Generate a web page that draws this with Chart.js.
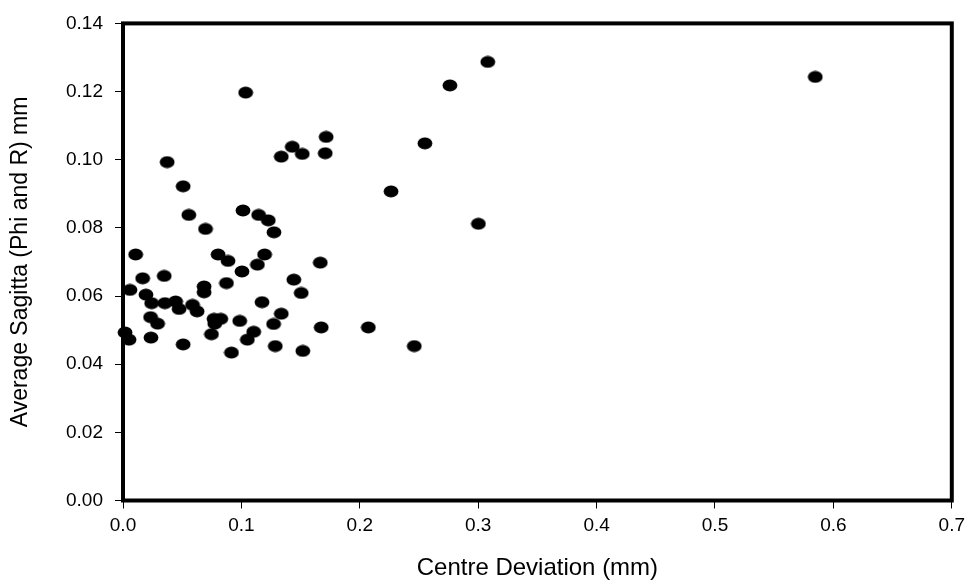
<!DOCTYPE html>
<html lang="en">
<head>
    <meta charset="UTF-8">
    <title>Average Sagitta vs Centre Deviation</title>
    <script src="https://cdn.jsdelivr.net/npm/chart.js@4.4.0/dist/chart.umd.min.js"></script>
    <style>
        html, body {
            margin: 0;
            padding: 0;
            background: #fff;
        }
        #wrap {
            width: 971px;
            height: 585px;
        }
    </style>
</head>
<body>
    <div id="wrap"><canvas id="canvas" width="971" height="585"></canvas></div>

    <script>
        // Centre deviation (mm) and average sagitta (mm)
        const centreDeviation = [
            0.0373, 0.0508, 0.0556, 0.0697, 0.1013, 0.1146, 0.1227, 0.1275,
            0.1337, 0.1430, 0.1514, 0.3081, 0.2761, 0.1716, 0.1708, 0.2550,
            0.2264, 0.1036, 0.5847, 0.3002, 0.0107, 0.0803, 0.0887, 0.1196,
            0.1135, 0.1005, 0.0166, 0.0348, 0.1443, 0.0685, 0.0874, 0.0059,
            0.0685, 0.1505, 0.0194, 0.0242, 0.0354, 0.0444, 0.0474, 0.0587,
            0.0626, 0.1174, 0.1337, 0.0233, 0.0292, 0.0769, 0.0826, 0.0775,
            0.0986, 0.1272, 0.1104, 0.1050, 0.0747, 0.0017, 0.0051, 0.0236,
            0.0508, 0.0916, 0.1286, 0.1519, 0.1674, 0.2072, 0.1666, 0.2460
        ];
        const avgSagitta = [
            0.0993, 0.0922, 0.0838, 0.0797, 0.0851, 0.0838, 0.0822, 0.0787,
            0.1009, 0.1038, 0.1017, 0.1287, 0.1218, 0.1067, 0.1019, 0.1048,
            0.0907, 0.1197, 0.1243, 0.0812, 0.0722, 0.0722, 0.0703, 0.0722,
            0.0692, 0.0672, 0.0652, 0.0659, 0.0648, 0.0628, 0.0638, 0.0618,
            0.0611, 0.0609, 0.0604, 0.0579, 0.0579, 0.0584, 0.0562, 0.0574,
            0.0555, 0.0582, 0.0548, 0.0538, 0.0519, 0.0533, 0.0533, 0.0519,
            0.0527, 0.0518, 0.0495, 0.0472, 0.0488, 0.0493, 0.0472, 0.0478,
            0.0458, 0.0434, 0.0453, 0.0439, 0.0508, 0.0508, 0.0698, 0.0453
        ];

        // Tick labels
        const xTickLabels = ['0.0', '0.1', '0.2', '0.3', '0.4', '0.5', '0.6', '0.7'];
        const yTickLabels = ['0.00', '0.02', '0.04', '0.06', '0.08', '0.10', '0.12', '0.14'];

        // Slightly flattened black dot used as the marker
        let dot = document.createElement('canvas');
        dot.width = 16;
        dot.height = 13;
        let dctx = dot.getContext('2d');
        dctx.fillStyle = '#000';
        dctx.beginPath();
        dctx.ellipse(8, 6.5, 7.4, 6.0, 0, 0, Math.PI * 2);
        dctx.fill();

        // Thick box around the plot area
        const frame = {
            id: 'frame',
            afterDatasetsDraw(chart) {
                let a = chart.chartArea;
                let c = chart.ctx;
                c.save();
                c.strokeStyle = '#000';
                c.lineWidth = 4;
                c.strokeRect(a.left, a.top, a.right - a.left, a.bottom - a.top);
                c.restore();
            }
        };

        let points = centreDeviation.map((x, i) => ({ x: x, y: avgSagitta[i] }));

        new Chart(document.getElementById('canvas'), {
            type: 'scatter',
            data: {
                datasets: [{
                    data: points,
                    pointStyle: dot,
                    radius: 7,
                    hoverRadius: 7,
                    clip: false
                }]
            },
            options: {
                responsive: false,
                animation: false,
                events: [],
                layout: { padding: { left: 0, top: 18, right: 17, bottom: 0 } },
                plugins: {
                    legend: { display: false },
                    tooltip: { enabled: false }
                },
                scales: {
                    x: {
                        min: 0,
                        max: 0.7,
                        afterFit: s => { s.height = 84.5; },
                        afterBuildTicks: s => {
                            s.ticks = xTickLabels.map(t => ({ value: parseFloat(t) }));
                        },
                        border: { display: false },
                        grid: { drawOnChartArea: false, drawTicks: true, tickLength: 8, color: '#000', lineWidth: 1 },
                        ticks: {
                            color: '#000',
                            padding: 6,
                            maxRotation: 0,
                            font: { family: 'Liberation Sans', size: 19 },
                            callback: (v, i) => xTickLabels[i]
                        },
                        title: {
                            display: true,
                            text: 'Centre Deviation (mm)',
                            color: '#000',
                            padding: { top: 0, bottom: 2 },
                            font: { family: 'Liberation Sans', size: 24 }
                        }
                    },
                    y: {
                        min: 0,
                        max: 0.14,
                        afterFit: s => { s.width = 123; },
                        afterBuildTicks: s => {
                            s.ticks = yTickLabels.map(t => ({ value: parseFloat(t) }));
                        },
                        border: { display: false },
                        grid: { drawOnChartArea: false, drawTicks: true, tickLength: 8, color: '#000', lineWidth: 1 },
                        ticks: {
                            color: '#000',
                            padding: 12,
                            font: { family: 'Liberation Sans', size: 19 },
                            callback: (v, i) => yTickLabels[i]
                        },
                        title: {
                            display: true,
                            text: 'Average Sagitta (Phi and R) mm',
                            color: '#000',
                            padding: { top: 7, bottom: 0 },
                            font: { family: 'Liberation Sans', size: 23 }
                        }
                    }
                }
            },
            plugins: [frame]
        });
    </script>
</body>
</html>
